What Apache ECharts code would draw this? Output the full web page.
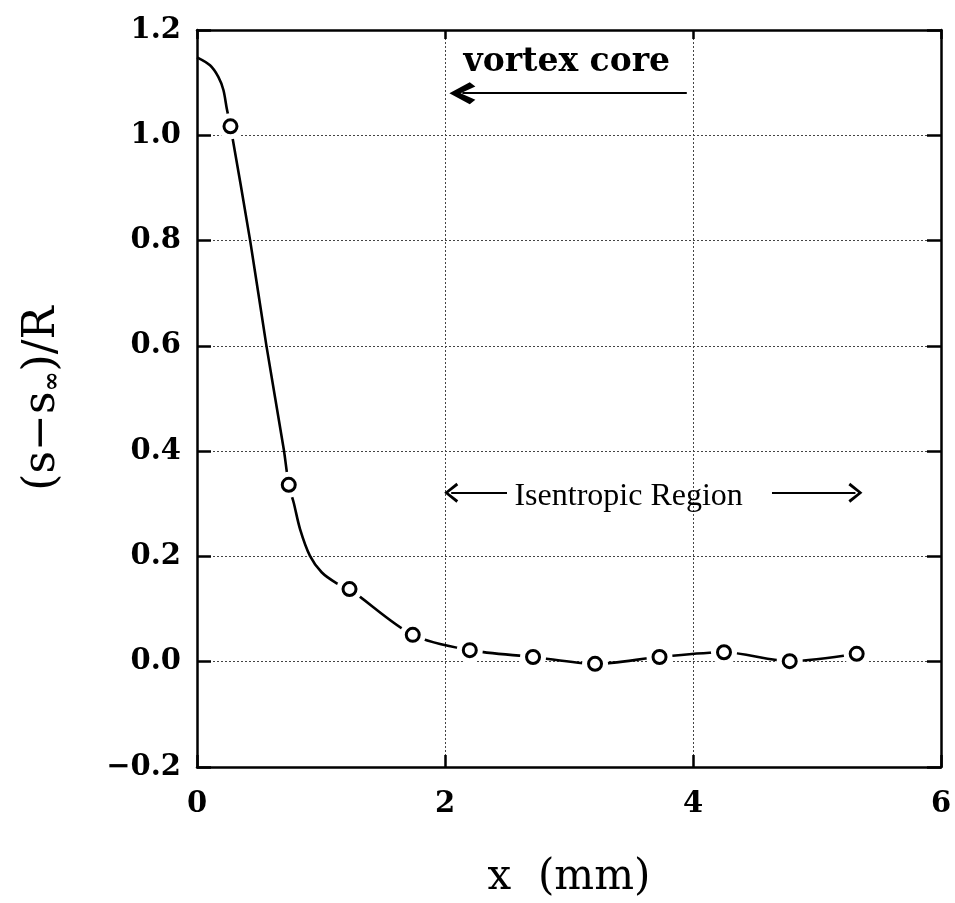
<!DOCTYPE html>
<html>
<head>
<meta charset="utf-8">
<script src="https://cdn.jsdelivr.net/npm/echarts@6/dist/echarts.min.js"></script>
<style>html,body{margin:0;padding:0;background:#fff}#c{width:955px;height:903px}</style>
</head>
<body>
<div id="c"></div>
<script>
// measured circles
const markerX = [0.27, 0.74, 1.23, 1.74, 2.20, 2.71, 3.21, 3.73, 4.25, 4.78, 5.32];
const markerY = [1.017, 0.336, 0.138, 0.051, 0.022, 0.009, -0.004, 0.009, 0.018, 0.001, 0.015];
// fitted curve
const curveX = [0, 0.105, 0.172, 0.213, 0.24, 0.27, 0.43, 0.56, 0.70, 0.74, 0.78, 0.831, 0.911, 1.005, 1.127, 1.23, 1.74, 2.20, 2.71, 3.21, 3.73, 4.25, 4.78, 5.32];
const curveY = [1.148, 1.133, 1.111, 1.086, 1.051, 1.017, 0.798, 0.600, 0.403, 0.336, 0.302, 0.252, 0.201, 0.170, 0.149, 0.138, 0.051, 0.022, 0.009, -0.004, 0.009, 0.018, 0.001, 0.015];
// tick labels
const xTickValues = [0, 2, 4, 6];
const xTickLabels = ['0', '2', '4', '6'];
const yTickValues = [-0.2, 0.0, 0.2, 0.4, 0.6, 0.8, 1.0, 1.2];
const yTickLabels = ['\u22120.2', '0.0', '0.2', '0.4', '0.6', '0.8', '1.0', '1.2'];
// annotations
const vortexText = 'vortex core';
const vortexTextPos = [2.15, 1.139];
const vortexArrow = [[3.95, 1.08], [2.14, 1.08]];
const isenText = 'Isentropic Region';
const isenTextPos = [2.56, 0.313];
const isenArrowLeft = [[2.5, 0.321], [2.05, 0.321]];
const isenArrowRight = [[4.637, 0.321], [5.31, 0.321]];

const curveData = curveX.map((x, i) => [x, curveY[i]]);
const markerData = markerX.map((x, i) => [x, markerY[i]]);

function lookup(vals, labels, v) {
  for (let i = 0; i < vals.length; i++) if (Math.abs(vals[i] - v) < 1e-6) return labels[i];
  return '';
}

const chev = 'path://M50,0 L100,70 L88,80 L50,24 L12,80 L0,70 Z';
const chevBold = 'path://M50,0 L100,58 L80,74 L50,32 L20,74 L0,58 Z';
const tickFont = { fontFamily: 'DejaVu Serif', fontWeight: 'bold', fontSize: 29, color: '#000' };
const axisLineStyle = { color: '#000', width: 2.5 };
const gridStyle = { color: '#444', width: 1, type: [2, 2] };

const chart = echarts.init(document.getElementById('c'), null, { renderer: 'canvas' });
chart.setOption({
  backgroundColor: '#fff',
  animation: false,
  grid: { left: 197, right: 14, top: 30, bottom: 136, containLabel: false, outerBoundsMode: 'none' },
  xAxis: [{
    type: 'value', min: 0, max: 6, interval: 2, position: 'bottom',
    name: 'x  (mm)', nameLocation: 'middle', nameGap: 90,
    nameTextStyle: { fontFamily: 'DejaVu Serif', fontSize: 42, color: '#000' },
    axisLine: { show: true, onZero: false, lineStyle: axisLineStyle },
    axisTick: { show: true, inside: true, length: 12, lineStyle: { color: '#000', width: 2.5 } },
    axisLabel: Object.assign({ margin: 23, formatter: v => lookup(xTickValues, xTickLabels, v) }, tickFont),
    splitLine: { show: true, lineStyle: gridStyle }
  }, {
    type: 'value', min: 0, max: 6, interval: 2, position: 'top',
    axisLine: { show: true, onZero: false, lineStyle: axisLineStyle },
    axisTick: { show: true, inside: true, length: 9, lineStyle: { color: '#000', width: 2.5 } },
    axisLabel: { show: false }, splitLine: { show: false }
  }],
  yAxis: [{
    type: 'value', min: -0.2, max: 1.2, interval: 0.2, position: 'left',
    name: '{b|(s\u2212s}{s|\u221e}{b|)/R}', nameLocation: 'middle', nameGap: 132, nameRotate: 90,
    nameTextStyle: {
      rich: {
        b: { fontFamily: 'DejaVu Serif', fontSize: 44, color: '#000', lineHeight: 50, verticalAlign: 'bottom' },
        s: { fontFamily: 'DejaVu Serif', fontWeight: 'bold', fontSize: 24, color: '#000', lineHeight: 14, verticalAlign: 'bottom' }
      }
    },
    axisLine: { show: true, onZero: false, lineStyle: axisLineStyle },
    axisTick: { show: true, inside: true, length: 14, lineStyle: { color: '#000', width: 2.5 } },
    axisLabel: Object.assign({ margin: 16, formatter: v => lookup(yTickValues, yTickLabels, v) }, tickFont),
    splitLine: { show: true, lineStyle: gridStyle }
  }, {
    type: 'value', min: -0.2, max: 1.2, interval: 0.2, position: 'right',
    axisLine: { show: true, onZero: false, lineStyle: axisLineStyle },
    axisTick: { show: true, inside: true, length: 14, lineStyle: { color: '#000', width: 2.5 } },
    axisLabel: { show: false }, splitLine: { show: false }
  }],
  series: [{
    type: 'line', name: 'curve', data: curveData, smooth: 0.3,
    showSymbol: false, symbol: 'none',
    lineStyle: { color: '#000', width: 2.6 }, z: 2, silent: true,
    markLine: {
      silent: true, animation: false,
      label: { show: false },
      lineStyle: { color: '#000', width: 2, type: 'solid' },
      data: [
        [{ coord: vortexArrow[0], symbol: 'none' }, { coord: vortexArrow[1], symbol: chevBold, symbolSize: [22, 26] }],
        [{ coord: isenArrowLeft[0], symbol: 'none' }, { coord: isenArrowLeft[1], symbol: chev, symbolSize: [20, 14] }],
        [{ coord: isenArrowRight[0], symbol: 'none' }, { coord: isenArrowRight[1], symbol: chev, symbolSize: [20, 14] }]
      ]
    },
    markPoint: {
      silent: true, animation: false,
      symbol: 'circle', symbolSize: 0,
      data: [
        { coord: vortexTextPos, label: { show: true, position: 'right', distance: 0, formatter: vortexText,
          fontFamily: 'DejaVu Serif', fontWeight: 'bold', fontSize: 33, color: '#000' } },
        { coord: isenTextPos, label: { show: true, position: 'right', distance: 0, formatter: isenText,
          fontFamily: 'Liberation Serif', fontSize: 32, color: '#000' } }
      ]
    }
  }, {
    type: 'scatter', name: 'gap', data: markerData, symbol: 'circle', symbolSize: 26,
    itemStyle: { color: '#fff', opacity: 1 }, z: 3, silent: true
  }, {
    type: 'scatter', name: 'points', data: markerData, symbol: 'circle', symbolSize: 13,
    itemStyle: { color: '#fff', borderColor: '#000', borderWidth: 3, opacity: 1 }, z: 4, silent: true
  }]
});
</script>
</body>
</html>
